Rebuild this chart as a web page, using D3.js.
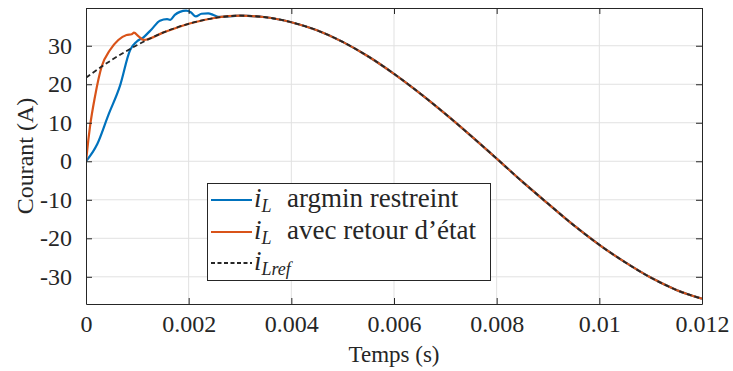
<!DOCTYPE html>
<html><head><meta charset="utf-8">
<script src="https://cdn.jsdelivr.net/npm/d3@7"></script>
<style>body{margin:0;background:#fff}svg{display:block}text{font-family:"Liberation Serif",serif;fill:#262626}</style>
</head><body><svg id="c" width="733" height="371"></svg>
<script>
// reference current i_Lref (time in s, current in A)
const refT = [0,0.0005,0.001,0.0015,0.002,0.0025,0.003,0.0035,0.004,0.0045,0.005,0.0055,0.006,0.0065,0.007,0.0075,0.008,0.0085,0.009,0.0095,0.01,0.0105,0.011,0.0115,0.012];
const refV = [21.7,26.3,30.2,33.4,35.7,37.2,37.8,37.4,36.1,34.0,31.0,27.2,22.7,17.7,12.3,6.6,0.7,-5.3,-11.0,-16.6,-21.7,-26.2,-30.2,-33.4,-35.7];
// i_L argmin restreint (transient part, then follows reference)
const blueT = [0,0.00022,0.000435,0.00066,0.00086,0.00099,0.00112,0.00128,0.00144,0.00158,0.00164,0.00173,0.00183,0.00195,0.00204,0.00214,0.00225,0.00238,0.00248,0.00258];
const blueV = [0,4.5,12.0,19.5,28.9,31.1,32.2,34.3,36.5,36.9,36.7,38.0,38.8,39.1,38.7,37.6,38.3,38.4,38.0,37.5];
// i_L avec retour d'état (transient part, then follows reference)
const orangeT = [0,0.000045,0.000078,0.000175,0.000305,0.000468,0.00063,0.00079,0.00089,0.000935,0.00102,0.00112];
const orangeV = [0,5.5,9.0,16.8,24.6,28.9,31.5,32.8,33.0,33.4,32.5,31.5];

const xTicks = [0,0.002,0.004,0.006,0.008,0.01,0.012];
const xTickLabels = ["0","0.002","0.004","0.006","0.008","0.01","0.012"];
const yTicks = [-30,-20,-10,0,10,20,30];
const yTickLabels = ["-30","-20","-10","0","10","20","30"];
const legendLabels = ["argmin restreint","avec retour d\u2019état",""];
const xTitle = "Temps (s)", yTitle = "Courant (A)";

const L=86,R=702,T=8,B=304;
const svg = d3.select("#c");
const x = d3.scaleLinear().domain([0,0.012]).range([L,R]);
const y = d3.scaleLinear().domain([-37.06,39.8]).range([B,T]);

const zip=(ts,vs)=>ts.map((t,i)=>[t,vs[i]]);
const ref = zip(refT,refV);
const blue = zip(blueT,blueV).concat(ref.filter(d=>d[0]>=0.003));
const orange = zip(orangeT,orangeV).concat(ref.filter(d=>d[0]>=0.0015));

// grid
const grid = svg.append("g");
grid.selectAll(".gx").data(xTicks.slice(1,-1)).join("line")
  .attr("x1",d=>x(d)).attr("x2",d=>x(d)).attr("y1",T).attr("y2",B)
  .attr("stroke","#e1e1e1").attr("stroke-width",1);
grid.selectAll(".gy").data(yTicks).join("line")
  .attr("y1",d=>y(d)).attr("y2",d=>y(d)).attr("x1",L).attr("x2",R)
  .attr("stroke","#e1e1e1").attr("stroke-width",1);

svg.append("clipPath").attr("id","pc").append("rect").attr("x",L).attr("y",T).attr("width",R-L).attr("height",B-T);
const line = d3.line().x(d=>x(d[0])).y(d=>y(d[1])).curve(d3.curveMonotoneX);
const pg = svg.append("g").attr("clip-path","url(#pc)");
pg.append("path").datum(blue).attr("d",line).attr("fill","none").attr("stroke","#0072BD").attr("stroke-width",2.2);
pg.append("path").datum(orange).attr("d",line).attr("fill","none").attr("stroke","#D95319").attr("stroke-width",2.2);
pg.append("path").datum(ref).attr("d",line).attr("fill","none").attr("stroke","#262626").attr("stroke-width",1.8).attr("stroke-dasharray","5,3");

// axes (box)
const ax = svg.append("g");
const xa = d3.axisBottom(x).tickValues(xTicks).tickFormat((d,i)=>xTickLabels[i]).tickSizeInner(-6).tickSizeOuter(0).tickPadding(11);
const ya = d3.axisLeft(y).tickValues(yTicks).tickFormat((d,i)=>yTickLabels[i]).tickSizeInner(-6).tickSizeOuter(0).tickPadding(14);
ax.append("g").attr("transform",`translate(0,${B})`).call(xa);
ax.append("g").attr("transform",`translate(${L},0)`).call(ya);
ax.append("g").attr("transform",`translate(0,${T})`).call(d3.axisTop(x).tickValues(xTicks).tickFormat("").tickSizeInner(-6).tickSizeOuter(0));
ax.append("g").attr("transform",`translate(${R},0)`).call(d3.axisRight(y).tickValues(yTicks).tickFormat("").tickSizeInner(-6).tickSizeOuter(0));
ax.selectAll(".domain").attr("stroke","#262626").attr("stroke-width",1);
ax.selectAll(".tick line").attr("stroke","#262626");
ax.selectAll(".tick text").style("font-family","Liberation Serif").style("font-size","24px").attr("fill","#262626");

svg.append("text").attr("x",(L+R)/2).attr("y",362).attr("text-anchor","middle").style("font-size","23px").text(xTitle);
svg.append("text").attr("transform",`translate(33,${(T+B)/2}) rotate(-90)`).attr("text-anchor","middle").style("font-size","24px").text(yTitle);

// legend
const lg = svg.append("g");
lg.append("rect").attr("x",207.5).attr("y",183.5).attr("width",283).attr("height",97).attr("fill","#fff").attr("stroke","#262626").attr("stroke-width",1);
const rows=[{c:"#0072BD",d:null,sub:"L",t:legendLabels[0]},{c:"#D95319",d:null,sub:"L",t:legendLabels[1]},{c:"#262626",d:"4,2.5",sub:"Lref",t:legendLabels[2]}];
const rowY=[200,232,263];
rows.forEach((r,i)=>{
  lg.append("line").attr("x1",211).attr("x2",252).attr("y1",rowY[i]).attr("y2",rowY[i]).attr("stroke",r.c).attr("stroke-width",i<2?2.2:1.8).attr("stroke-dasharray",r.d);
  const tx = lg.append("text").attr("x",254).attr("y",rowY[i]+7).style("font-size","27px");
  tx.append("tspan").style("font-style","italic").text("i");
  tx.append("tspan").style("font-style","italic").style("font-size","18px").attr("dy",5).text(r.sub);
  if(r.t) tx.append("tspan").attr("dy",-5).attr("x",287).text(r.t);
});
</script></body></html>
